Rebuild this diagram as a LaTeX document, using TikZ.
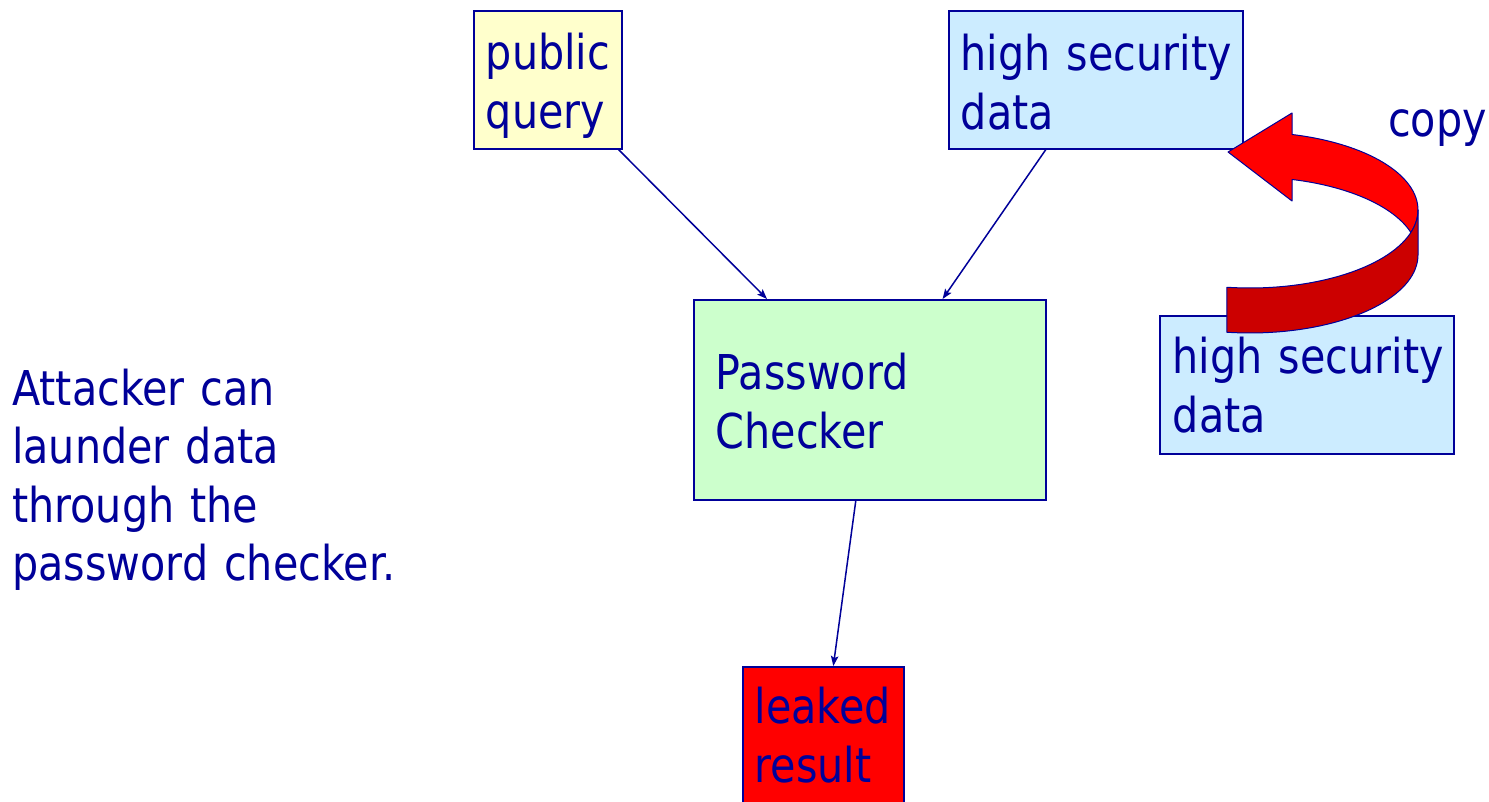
\documentclass[tikz,border=0pt]{standalone}
\usepackage{fontspec}
\setmainfont[FakeStretch=0.86]{DejaVu Sans}
\usetikzlibrary{arrows.meta}

\definecolor{ink}{RGB}{0,0,153}
\definecolor{pubfill}{RGB}{255,255,204}
\definecolor{secfill}{RGB}{204,236,255}
\definecolor{chkfill}{RGB}{204,255,204}
\definecolor{leakfill}{RGB}{255,0,0}
\definecolor{ribbonback}{RGB}{255,0,0}
\definecolor{ribbonfront}{RGB}{204,0,0}

\begin{document}
\begin{tikzpicture}[x=1pt,y=-1pt,
  bigfont/.style={font=\fontsize{48}{58.5}\selectfont},
  box/.style={draw=ink, line width=1.6pt, text=ink, bigfont,
    inner xsep=12pt, inner ysep=0pt, align=left, anchor=north west},
  conn/.style={draw=ink, line width=1.5pt,
    -{Stealth[length=10pt,width=7.5pt,inset=2pt]}},
  ribbon/.style={draw=ink, line width=1pt, line join=round},
  caption/.style={text=ink, bigfont, inner sep=0pt, align=left}]

\useasboundingbox (0,0) rectangle (1489,802);
\clip (0,0) rectangle (1489,802);
\fill[white] (0,0) rectangle (1489,802);

% data sources, checker and result
\node[box, fill=pubfill, text width=124pt, text height=59pt, text depth=79pt]
  (pq) at (473,10) {public\\query};
\node[box, fill=secfill, text width=270pt, text height=60pt, text depth=78pt]
  (hs) at (948,10) {\mbox{high security}\\data};
\node[box, fill=chkfill, inner xsep=22pt, text width=308pt,
  text height=90pt, text depth=110pt]
  (pc) at (693,299) {Password\\Checker};
\node[box, fill=secfill, inner xsep=13pt, text width=268pt,
  text height=58pt, text depth=80pt]
  (hs2) at (1159,315) {\mbox{high security}\\data};
\node[box, fill=leakfill, inner xsep=12pt, text width=137pt,
  text height=57pt, text depth=100pt]
  (lr) at (742,666) {leaked\\result};

% side notes
\node[caption, anchor=north west, text width=400pt, text height=0pt]
  (att) at (12,405) {Attacker can\\launder data\\through the\\password checker.};
\node[caption, anchor=base west] (cp) at (1388,137) {copy};

% data flow
\draw[conn] ([xshift=-4pt]pq.south east) -- ([xshift=74pt]pc.north west);
\draw[conn] ([xshift=-50pt]hs.south) -- ([xshift=-104pt]pc.north east);
\draw[conn] ([xshift=-14pt]pc.south) -- ([xshift=10pt]lr.north);

% curved ribbon arrow: inner (back) face with the head
\filldraw[ribbon, fill=ribbonback]
  plot[domain=-75.5:16.7, samples=40] ({1250+168*cos(\x)},{210+78*sin(\x)})
  -- plot[domain=-16.7:-75.5, samples=40] ({1250+168*cos(\x)},{255+78*sin(\x)})
  -- (1292,201) -- (1228,152) -- (1292,113) -- cycle;
% outer (front) face
\filldraw[ribbon, fill=ribbonfront]
  plot[domain=0:97.9, samples=40] ({1250+168*cos(\x)},{210+78*sin(\x)})
  -- plot[domain=97.9:0, samples=40] ({1250+168*cos(\x)},{255+78*sin(\x)})
  -- cycle;
\end{tikzpicture}
\end{document}
